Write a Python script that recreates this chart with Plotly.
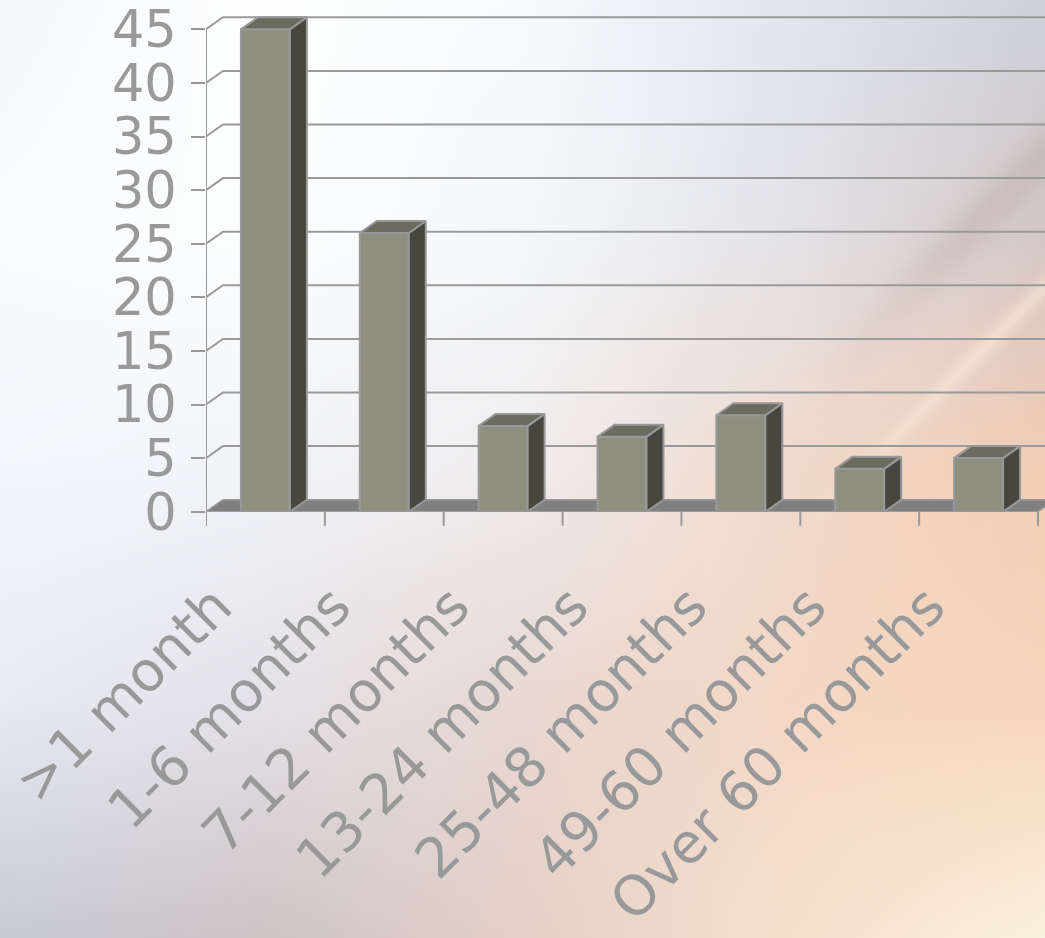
import base64
import struct
import zlib

import numpy as np
import plotly.graph_objects as go

# ---- data -------------------------------------------------------------
categories = [">1 month", "1-6 months", "7-12 months", "13-24 months",
              "25-48 months", "49-60 months", "Over 60 months"]
values = [45, 26, 8, 7, 9, 4, 5]
y_ticks = [0, 5, 10, 15, 20, 25, 30, 35, 40, 45]

# ---- geometry / style -------------------------------------------------
FIG_W, FIG_H = 1045, 938
X_LEFT_PX = 206          # left edge of the front plane
BASE_PX = 511.7          # pixel row of the front baseline
CAT_PX = 118.86          # pixels per category
VAL_PX = 10.72           # pixels per value unit
DEPTH_X = 17 / CAT_PX    # 3-D depth offset in category units
DEPTH_Y = 12 / VAL_PX    # 3-D depth offset in value units
HALF_W = 0.206           # half bar width in category units

x_max = -0.5 + (FIG_W - X_LEFT_PX) / CAT_PX
y_max = BASE_PX / VAL_PX
y_dom0 = (FIG_H - BASE_PX) / FIG_H

FRONT = "#8f8f80"
SIDE = "#47473d"
TOP = "#6b6b5f"
EDGE = "#999999"
GRID = "#9a9a9a"
FLOOR = "#808080"
TEXT = "#999999"
FONT = "DejaVu Sans"


def ypaper(v):
    return y_dom0 + v / y_max * (1 - y_dom0)


# ---- soft background wash -----------------------------------------------
def background_png(w, h):
    xs = np.array([0, 261, 522, 784, 1045], float)
    ys = np.array([0, 235, 469, 704, 938], float)
    grid = np.array([
        [(246, 249, 252), (254, 254, 254), (248, 252, 254), (226, 231, 238), (206, 209, 218)],
        [(250, 252, 254), (253, 254, 254), (245, 248, 251), (228, 227, 232), (212, 200, 198)],
        [(243, 247, 251), (242, 244, 248), (240, 237, 238), (240, 218, 204), (243, 205, 180)],
        [(232, 235, 241), (228, 226, 232), (232, 216, 210), (244, 216, 198), (246, 214, 188)],
        [(200, 202, 212), (206, 196, 198), (228, 208, 200), (246, 224, 204), (250, 242, 222)],
    ], float)
    X = (np.arange(w) + 0.5) * FIG_W / w
    Y = (np.arange(h) + 0.5) * FIG_H / h
    rows = np.stack([np.stack([np.interp(X, xs, grid[r, :, c]) for c in range(3)], -1)
                     for r in range(len(ys))])          # (R, w, 3)
    fy = np.interp(Y, ys, np.arange(len(ys)))
    i0 = np.clip(np.floor(fy).astype(int), 0, len(ys) - 2)
    t = (fy - i0)[:, None, None]
    img = rows[i0] * (1 - t) + rows[i0 + 1] * t        # (h, w, 3)

    XX, YY = np.meshgrid(X, Y)
    # darker diagonal band at the right
    d1 = (XX + YY - 1200) / np.sqrt(2)
    fade1 = np.clip((XX - 820) / 150, 0, 1)
    a1 = 0.22 * np.exp(-(d1 / 22) ** 2) * fade1
    img = img * (1 - a1[..., None]) + np.array([170, 140, 128]) * a1[..., None]
    # light streak below it
    d2 = (XX + YY - 1332) / np.sqrt(2)
    fade2 = np.clip((XX - 760) / 200, 0, 1)
    a2 = 0.55 * np.exp(-(d2 / 9) ** 2) * fade2
    img = img * (1 - a2[..., None]) + np.array([252, 236, 220]) * a2[..., None]

    img = np.clip(img, 0, 255).astype(np.uint8)
    raw = b"".join(b"\x00" + img[i].tobytes() for i in range(h))

    def chunk(tag, data):
        return (struct.pack(">I", len(data)) + tag + data
                + struct.pack(">I", zlib.crc32(tag + data) & 0xFFFFFFFF))

    png = (b"\x89PNG\r\n\x1a\n"
           + chunk(b"IHDR", struct.pack(">IIBBBBB", w, h, 8, 2, 0, 0, 0))
           + chunk(b"IDAT", zlib.compress(raw, 9))
           + chunk(b"IEND", b""))
    return "data:image/png;base64," + base64.b64encode(png).decode()


fig = go.Figure()

# front faces of the bars
idx = list(range(len(categories)))
fig.add_trace(go.Bar(
    x=idx, y=values, width=2 * HALF_W,
    marker=dict(color=FRONT, line=dict(color=EDGE, width=2)),
    hoverinfo="x+y",
))

# right-hand side faces and top faces of the bars
side_x, side_y, top_x, top_y = [], [], [], []
for i, v in zip(idx, values):
    r = i + HALF_W
    l = i - HALF_W
    side_x += [r, r + DEPTH_X, r + DEPTH_X, r, r, None]
    side_y += [0, DEPTH_Y, v + DEPTH_Y, v, 0, None]
    top_x += [l, l + DEPTH_X, r + DEPTH_X, r, l, None]
    top_y += [v, v + DEPTH_Y, v + DEPTH_Y, v, v, None]

fig.add_trace(go.Scatter(x=side_x, y=side_y, mode="lines", fill="toself",
                         fillcolor=SIDE, line=dict(color=EDGE, width=2),
                         hoverinfo="skip"))
fig.add_trace(go.Scatter(x=top_x, y=top_y, mode="lines", fill="toself",
                         fillcolor=TOP, line=dict(color=EDGE, width=2),
                         hoverinfo="skip"))

shapes = []
# back-wall gridlines with their diagonal lead-ins
for v in y_ticks[1:]:
    shapes.append(dict(type="path", xref="x", yref="y", layer="below",
                       path=f"M {-0.5},{v} L {-0.5 + DEPTH_X},{v + DEPTH_Y} L {x_max + 1},{v + DEPTH_Y}",
                       line=dict(color=GRID, width=2)))
# floor
n = len(categories)
shapes.append(dict(type="path", xref="x", yref="y", layer="below",
                   path=(f"M {-0.5},0 L {n - 0.5},0 L {n - 0.5 + DEPTH_X},{DEPTH_Y} "
                         f"L {-0.5 + DEPTH_X},{DEPTH_Y} Z"),
                   fillcolor=FLOOR, line=dict(color=EDGE, width=1.5)))
# front vertical axis line
tick_len = 14 / FIG_H
shapes.append(dict(type="line", xref="x", yref="paper",
                   x0=-0.5, x1=-0.5, y0=ypaper(0) - tick_len, y1=ypaper(y_ticks[-1]),
                   line=dict(color=EDGE, width=2)))
# category boundary ticks
for b in range(n + 1):
    shapes.append(dict(type="line", xref="x", yref="paper",
                       x0=b - 0.5, x1=b - 0.5, y0=ypaper(0) - tick_len, y1=ypaper(0),
                       line=dict(color=EDGE, width=2)))

fig.update_layout(
    width=FIG_W, height=FIG_H,
    margin=dict(l=0, r=0, t=0, b=0, autoexpand=False),
    paper_bgcolor="white",
    plot_bgcolor="rgba(0,0,0,0)",
    showlegend=False,
    shapes=shapes,
    images=[dict(source=background_png(349, 313), xref="paper", yref="paper",
                 x=0, y=1, sizex=1, sizey=1, sizing="stretch", layer="below",
                 xanchor="left", yanchor="top")],
    xaxis=dict(
        domain=[X_LEFT_PX / FIG_W, 1], range=[-0.5, x_max], automargin=False,
        tickmode="array", tickvals=idx, ticktext=categories,
        tickangle=-45, ticks="", showgrid=False, zeroline=False, showline=False,
        tickfont=dict(family=FONT, size=55, color=TEXT),
        ticklabelstandoff=50, ticklabelshift=-50, ticklabeloverflow="allow",
    ),
    yaxis=dict(
        domain=[y_dom0, 1], range=[0, y_max], automargin=False,
        tickmode="array", tickvals=y_ticks,
        ticks="outside", ticklen=14, tickwidth=2, tickcolor=EDGE,
        showgrid=False, zeroline=False, showline=False,
        tickfont=dict(family=FONT, size=51, color=TEXT),
        ticklabelstandoff=4, ticklabeloverflow="allow",
    ),
)

fig.write_html("out.html")
